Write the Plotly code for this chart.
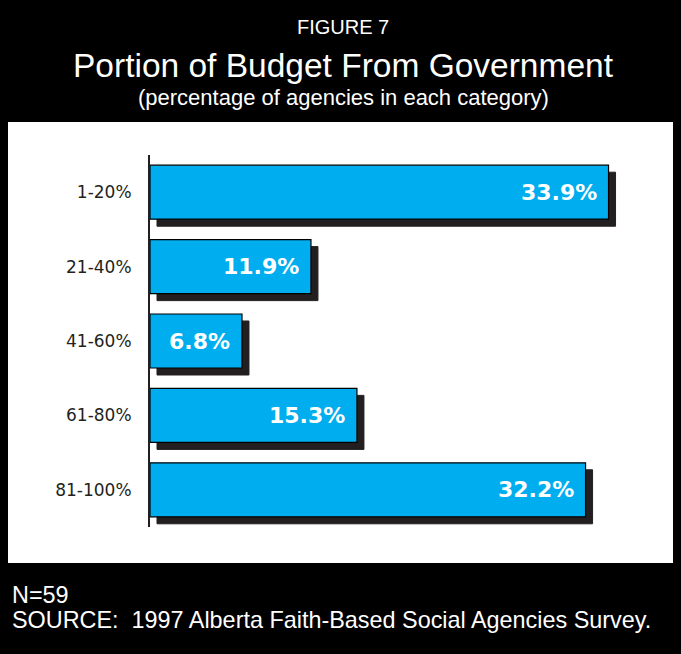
import plotly.graph_objects as go

# Survey results: share of agencies by portion of budget coming from government
categories = ["1-20%", "21-40%", "41-60%", "61-80%", "81-100%"]
percentages = [33.9, 11.9, 6.8, 15.3, 32.2]

title_top = "FIGURE 7"
title_main = "Portion of Budget From Government"
title_sub = "(percentage of agencies in each category)"
note_n = "N=59"
note_source = "SOURCE:  1997 Alberta Faith-Based Social Agencies Survey."

W, H = 681, 654
L, R, T, B = 150, 17, 155, 127
plot_w = W - L - R
plot_h = H - T - B
x_max = 38.0

BAR_COLOR = "#00AEEF"
SHADOW = "#231F20"
INK = "#231F20"

bar_w = 0.726
shadow_dx = 7 * x_max / plot_w                # 7 px to the right, in data units
shadow_dy = 7 * len(categories) / plot_h      # 7 px down, in category units


def py(y_px):
    """Page pixel row -> paper y."""
    return (H - B - y_px) / plot_h


def px(x_px):
    """Page pixel column -> paper x."""
    return (x_px - L) / plot_w


fig = go.Figure()

# drop shadows
fig.add_trace(go.Bar(
    y=categories, x=percentages, base=shadow_dx, orientation="h",
    width=bar_w, offset=-bar_w / 2 + shadow_dy,
    marker=dict(color=SHADOW, line=dict(color=SHADOW, width=1)),
    hoverinfo="skip", showlegend=False,
))

# main bars
fig.add_trace(go.Bar(
    y=categories, x=percentages, orientation="h",
    width=bar_w, offset=-bar_w / 2,
    marker=dict(color=BAR_COLOR, line=dict(color="#000000", width=1.2)),
    showlegend=False,
))

annotations = []
for cat, val in zip(categories, percentages):
    annotations.append(dict(
        x=val, y=cat, xref="x", yref="y", text=f"{val}%",
        xanchor="right", yanchor="middle", xshift=-10, showarrow=False,
        font=dict(family="DejaVu Sans", size=22, color="white", weight="bold"),
    ))

head_font = "Liberation Sans"
annotations += [
    dict(x=px(343), y=py(27), xref="paper", yref="paper", text=title_top,
         showarrow=False, xanchor="center", yanchor="middle",
         font=dict(family=head_font, size=20, color="white")),
    dict(x=px(343), y=py(65), xref="paper", yref="paper", text=title_main,
         showarrow=False, xanchor="center", yanchor="middle",
         font=dict(family=head_font, size=33.5, color="white")),
    dict(x=px(343.5), y=py(98), xref="paper", yref="paper", text=title_sub,
         showarrow=False, xanchor="center", yanchor="middle",
         font=dict(family=head_font, size=22, color="white")),
    dict(x=px(10), y=py(595), xref="paper", yref="paper", text=note_n,
         showarrow=False, xanchor="left", yanchor="middle",
         font=dict(family=head_font, size=23.4, color="white")),
    dict(x=px(10), y=py(620), xref="paper", yref="paper", text=note_source,
         showarrow=False, xanchor="left", yanchor="middle",
         font=dict(family=head_font, size=23.4, color="white")),
]

# white chart panel on the black page
shapes = [dict(
    type="rect", xref="paper", yref="paper", layer="below",
    x0=px(8), x1=px(673), y0=py(563), y1=py(122),
    fillcolor="white", line=dict(width=0),
)]

fig.update_layout(
    width=W, height=H,
    margin=dict(l=L, r=R, t=T, b=B, pad=0),
    paper_bgcolor="black", plot_bgcolor="white",
    barmode="overlay",
    annotations=annotations, shapes=shapes,
    xaxis=dict(range=[0, x_max], visible=False, fixedrange=True),
    yaxis=dict(
        type="category", categoryorder="array", categoryarray=categories,
        autorange="reversed", showgrid=False, zeroline=False,
        showline=True, linecolor=INK, linewidth=2,
        ticks="", ticklabelstandoff=13,
        tickfont=dict(family="DejaVu Sans", size=17, color=INK),
    ),
)

fig.write_html("out.html")
